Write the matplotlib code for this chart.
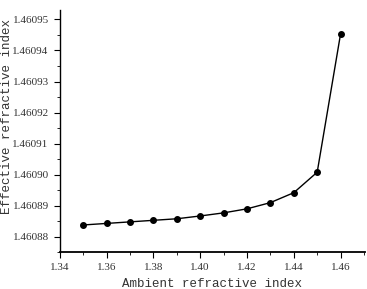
import matplotlib
matplotlib.use('Agg')
from matplotlib import pyplot as plt
from matplotlib.ticker import MultipleLocator, FormatStrFormatter

# datos
ambiente = [1.35, 1.36, 1.37, 1.38, 1.39, 1.40, 1.41, 1.42, 1.43, 1.44, 1.45, 1.46]
efectivo = [1.4608838, 1.4608843, 1.4608848, 1.4608853, 1.4608858, 1.4608867,
            1.4608877, 1.4608890, 1.4608910, 1.4608942, 1.4609008, 1.4609454]

plt.rcParams['font.family'] = ['Liberation Serif', 'DejaVu Serif']

fig = plt.figure(figsize=(3.67, 2.89), dpi=100)
ax = fig.add_axes([0.163, 0.127, 0.832, 0.838])

ax.plot(ambiente, efectivo, color='black', linewidth=1.0, marker='o', markersize=4)

ax.set_xlim(1.34, 1.4705)
ax.set_ylim(1.460875, 1.460953)
ax.xaxis.set_major_locator(MultipleLocator(0.02))
ax.xaxis.set_minor_locator(MultipleLocator(0.01))
ax.yaxis.set_major_locator(MultipleLocator(0.00001))
ax.yaxis.set_minor_locator(MultipleLocator(0.000005))
ax.xaxis.set_major_formatter(FormatStrFormatter('%.2f'))
ax.yaxis.set_major_formatter(FormatStrFormatter('%.5f'))

ax.spines['top'].set_visible(False)
ax.spines['right'].set_visible(False)
ax.spines['bottom'].set_linewidth(1.3)
ax.spines['left'].set_linewidth(1.0)
ax.tick_params(which='major', direction='out', length=4, labelsize=8, pad=4)
ax.tick_params(which='minor', direction='out', length=2)
for t in ax.get_xticklabels() + ax.get_yticklabels():
    t.set_color('#333333')

ax.set_xlabel('Ambient refractive index', fontsize=9, family='Liberation Mono', color='#333333')
ax.set_ylabel('Effective refractive index', fontsize=9, family='Liberation Mono', color='#333333')
ax.xaxis.set_label_coords(0.5, -0.105)
ax.yaxis.set_label_coords(-0.153, 0.56)

fig.savefig('out.png', dpi=100)
